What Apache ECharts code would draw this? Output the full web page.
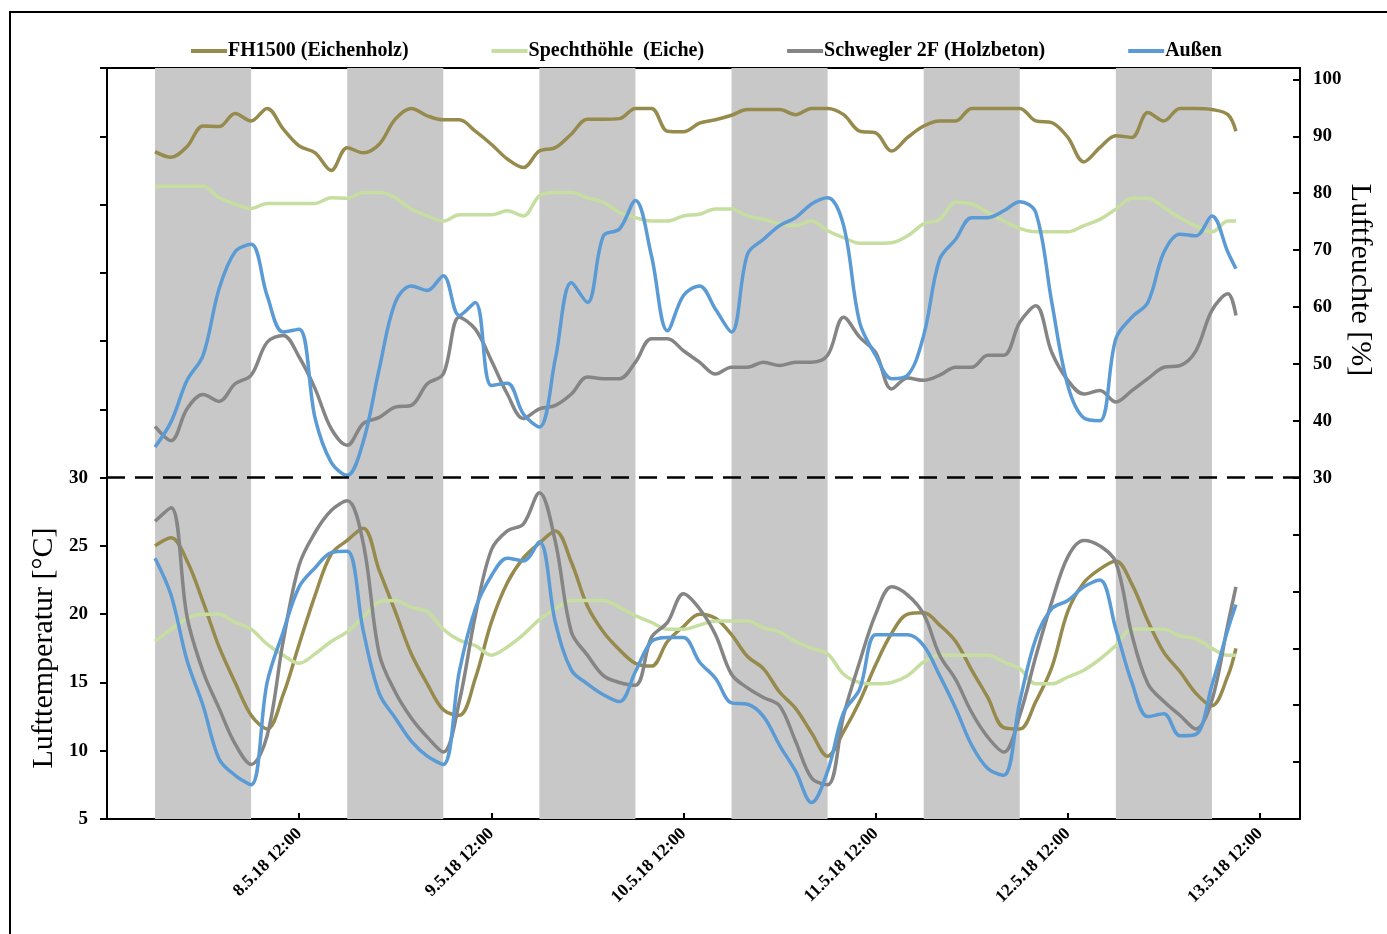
<!DOCTYPE html>
<html>
<head>
<meta charset="utf-8">
<title>Luftfeuchte / Lufttemperatur</title>
<script src="https://cdn.jsdelivr.net/npm/echarts@6.0.0/dist/echarts.min.js"></script>
<style>
    html, body { margin: 0; padding: 0; background: #fff; }
    #chart { width: 1387px; height: 934px; }
</style>
</head>
<body>
<div id="chart"></div>
<script>
// Stunden ab 7.5.18 12:00
const hours = [6, 8, 10, 12, 14, 16, 18, 20, 22, 24, 26, 28, 30, 32, 34, 36, 38, 40, 42, 44, 46, 48,
    50, 52, 54, 56, 58, 60, 62, 64, 66, 68, 70, 72, 74, 76, 78, 80, 82, 84, 86, 88, 90, 92, 94, 96, 98,
    100, 102, 104, 106, 108, 110, 112, 114, 116, 118, 120, 122, 124, 126, 128, 130, 132, 134, 136, 138, 140, 141]

const xLabels = ['8.5.18 12:00', '9.5.18 12:00', '10.5.18 12:00', '11.5.18 12:00', '12.5.18 12:00', '13.5.18 12:00']

// Nacht (18:00 - 06:00)
const nightStart = [6, 30, 54, 78, 102, 126]
const nightEnd = [18, 42, 66, 90, 114, 138]

const names = ['FH1500 (Eichenholz)', 'Spechthöhle  (Eiche)', 'Schwegler 2F (Holzbeton)', 'Außen']

// Luftfeuchte [%]
const fhHum = [87.3, 86.3, 88.2, 91.8, 91.7, 94.0, 92.7, 94.9, 91.3, 88.3, 87.1, 84.0, 88.0, 87.1, 88.6, 93.0, 94.9, 93.6, 92.9, 92.9, 90.9, 88.6,
    86.0, 84.5, 87.4, 88.0, 90.4, 93.0, 93.0, 93.1, 94.9, 94.9, 90.9, 90.8, 92.3, 92.9, 93.7, 94.7, 94.7, 94.7, 93.8, 94.9, 94.9, 93.8, 90.9, 90.6, 87.4,
    89.8, 91.8, 92.7, 92.7, 94.9, 94.9, 94.9, 94.9, 92.7, 92.4, 89.8, 85.5, 88.0, 90.1, 89.8, 94.2, 92.7, 94.9, 94.9, 94.7, 93.8, 90.9]
const spHum = [81.2, 81.2, 81.2, 81.2, 79.2, 78.1, 77.3, 78.2, 78.2, 78.2, 78.2, 79.2, 79.1, 80.1, 80.1, 79.2, 77.2, 76.0, 75.1, 76.2, 76.2, 76.2,
    76.9, 76.0, 79.5, 80.1, 80.1, 79.2, 78.4, 76.6, 75.7, 75.1, 75.1, 76.0, 76.3, 77.2, 77.2, 76.0, 75.4, 74.6, 74.3, 75.1, 73.4, 72.2, 71.2, 71.2, 71.3,
    72.5, 74.6, 75.4, 78.4, 78.1, 76.6, 75.1, 73.8, 73.2, 73.2, 73.2, 74.3, 75.4, 77.2, 79.1, 79.1, 77.5, 75.7, 74.2, 73.2, 75.1, 75.1]
const gyHum = [39.0, 36.5, 42.1, 44.6, 43.4, 46.5, 48.0, 53.8, 55.0, 51.2, 45.6, 38.6, 35.7, 39.5, 40.6, 42.4, 42.7, 46.5, 48.2, 58.2, 56.1, 50.6,
    44.7, 40.4, 42.1, 42.7, 44.7, 47.7, 47.4, 47.4, 50.3, 54.4, 54.4, 52.3, 50.3, 48.2, 49.4, 49.4, 50.3, 49.7, 50.3, 50.3, 51.5, 58.2, 54.7, 52.0, 45.6,
    47.5, 47.1, 48.0, 49.4, 49.4, 51.5, 51.5, 57.3, 60.2, 52.0, 47.1, 44.7, 45.3, 43.3, 45.3, 47.4, 49.4, 49.7, 52.3, 59.4, 62.3, 58.5]
const blHum = [35.4, 39.8, 47.1, 51.5, 63.2, 69.7, 71.0, 62.0, 55.6, 56.1, 40.4, 32.7, 30.4, 36.3, 49.1, 60.8, 63.7, 62.9, 65.5, 58.5, 60.8, 46.2,
    46.6, 41.2, 38.9, 50.9, 64.3, 60.8, 72.5, 73.7, 78.7, 69.0, 55.8, 62.0, 63.7, 59.6, 55.6, 69.3, 71.9, 74.3, 75.7, 78.1, 79.2, 74.3, 57.3, 51.5, 47.4,
    48.0, 55.0, 68.4, 71.9, 75.7, 75.7, 76.9, 78.5, 76.6, 60.8, 46.2, 40.5, 40.0, 54.4, 58.2, 60.8, 69.6, 72.8, 72.5, 76.0, 69.6, 66.7]

// Lufttemperatur [°C]
const fhTemp = [25.0, 25.6, 23.9, 20.9, 17.6, 15.0, 12.6, 11.6, 14.1, 17.8, 21.4, 24.4, 25.4, 26.3, 23.2, 20.2, 17.1, 14.9, 13.0, 12.6, 15.3, 19.4,
    22.3, 24.1, 25.2, 26.1, 23.8, 20.6, 18.7, 17.4, 16.4, 16.2, 18.0, 19.1, 20.0, 19.7, 18.5, 16.9, 16.0, 14.3, 13.1, 11.3, 9.6, 11.4, 13.6, 16.3, 18.6,
    20.0, 20.1, 19.2, 18.0, 15.9, 13.9, 11.7, 11.6, 13.6, 16.1, 20.2, 22.3, 23.3, 23.9, 22.2, 19.5, 17.2, 15.8, 14.2, 13.3, 15.5, 17.5]
const spTemp = [18.0, 18.9, 19.7, 20.0, 20.0, 19.4, 18.9, 17.8, 17.0, 16.4, 17.1, 18.0, 18.7, 19.8, 20.9, 21.0, 20.5, 20.2, 18.9, 18.1, 17.7, 17.0,
    17.6, 18.5, 19.6, 20.4, 21.0, 21.0, 21.0, 20.5, 19.9, 19.4, 18.9, 18.9, 19.2, 19.5, 19.5, 19.5, 19.0, 18.7, 18.0, 17.5, 17.1, 15.6, 15.0, 14.9, 15.0,
    15.5, 16.5, 17.0, 17.0, 17.0, 17.0, 16.5, 16.0, 14.9, 14.9, 15.4, 15.9, 16.7, 17.7, 18.9, 18.9, 18.9, 18.4, 18.2, 17.5, 17.0, 17.0]
const gyTemp = [26.8, 27.8, 19.8, 15.8, 13.1, 10.5, 9.0, 11.1, 18.0, 23.6, 26.0, 27.6, 28.3, 25.2, 17.1, 14.3, 12.4, 11.0, 9.9, 13.6, 19.9, 24.7,
    26.1, 26.6, 28.9, 25.3, 18.7, 17.0, 15.5, 15.0, 14.8, 18.3, 19.4, 21.5, 20.4, 18.5, 15.6, 14.6, 13.9, 13.3, 10.7, 8.0, 7.5, 12.6, 16.5, 20.0, 22.0,
    21.4, 20.0, 17.0, 15.2, 12.8, 11.0, 9.9, 12.6, 16.9, 20.9, 24.2, 25.4, 25.0, 23.8, 18.5, 14.9, 13.6, 12.6, 11.6, 13.7, 19.3, 22.0]
const blTemp = [24.1, 21.4, 16.6, 13.3, 9.4, 8.2, 7.5, 15.0, 18.7, 22.0, 23.4, 24.5, 24.6, 18.8, 14.2, 12.4, 10.7, 9.6, 9.0, 15.8, 20.4, 22.8,
    24.1, 23.9, 25.3, 19.4, 15.9, 14.9, 14.1, 13.6, 15.8, 18.0, 18.3, 18.3, 16.5, 15.3, 13.5, 13.4, 12.5, 10.4, 8.5, 6.2, 8.5, 12.8, 14.5, 18.5, 18.5,
    18.5, 17.7, 15.5, 13.1, 10.4, 8.7, 8.2, 13.6, 18.2, 20.4, 21.0, 22.0, 22.5, 18.9, 15.0, 12.5, 12.7, 11.1, 11.2, 14.8, 18.9, 20.7]

const colors = ['#968a4c', '#c6dea0', '#858585', '#5b9bd5']
const serif = '"Liberation Serif", "DejaVu Serif", serif'

function pairs(values) {
    return hours.map((h, i) => [h, values[i]])
}

function lineSeries(name, values, color, yAxisIndex) {
    return {
        name: name,
        type: 'line',
        yAxisIndex: yAxisIndex,
        data: pairs(values),
        showSymbol: false,
        smooth: 0.35,
        z: 3,
        lineStyle: { color: color, width: 3.5 },
        itemStyle: { color: color }
    }
}

const chart = echarts.init(document.getElementById('chart'))

const series = [
    // Nachtbalken und Trennlinie
    {
        type: 'line',
        data: [],
        silent: true,
        z: 1,
        markArea: {
            silent: true,
            itemStyle: { color: '#c8c8c8', opacity: 1 },
            data: nightStart.map((s, i) => [{ xAxis: s }, { xAxis: nightEnd[i] }])
        },
        markLine: {
            silent: true,
            symbol: 'none',
            label: { show: false },
            lineStyle: { color: '#000', width: 2.5, type: [18, 10] },
            data: [{ yAxis: 30 }]
        }
    },
    lineSeries(names[0], fhTemp, colors[0], 0),
    lineSeries(names[1], spTemp, colors[1], 0),
    lineSeries(names[2], gyTemp, colors[2], 0),
    lineSeries(names[3], blTemp, colors[3], 0),
    lineSeries(names[0], fhHum, colors[0], 1),
    lineSeries(names[1], spHum, colors[1], 1),
    lineSeries(names[2], gyHum, colors[2], 1),
    lineSeries(names[3], blHum, colors[3], 1)
]

chart.setOption({
    animation: false,
    backgroundColor: '#fff',
    textStyle: { fontFamily: serif },
    legend: {
        data: names,
        left: 186,
        top: 36,
        icon: 'rect',
        itemWidth: 36,
        itemHeight: 4,
        itemGap: 83,
        textStyle: { fontFamily: serif, fontSize: 20, fontWeight: 'bold', color: '#000', padding: [0, 0, 0, -4] }
    },
    grid: {
        left: 107,
        right: 87,
        top: 68,
        bottom: 115,
        show: true,
        borderColor: '#000',
        borderWidth: 2
    },
    xAxis: {
        type: 'value',
        min: 0,
        max: 149,
        interval: 24,
        splitLine: { show: false },
        axisLine: { onZero: false, lineStyle: { color: '#000', width: 2 } },
        axisTick: { inside: true, length: 6, lineStyle: { color: '#000', width: 2 } },
        axisLabel: {
            rotate: 45,
            margin: 12,
            fontFamily: serif,
            fontSize: 17.5,
            fontWeight: 'bold',
            color: '#000',
            formatter: v => (v > 0 && v % 24 === 0 ? xLabels[v / 24 - 1] : '')
        }
    },
    yAxis: [
        {
            type: 'value',
            min: 5,
            max: 60,
            interval: 5,
            splitLine: { show: false },
            axisLine: { show: true, onZero: false, lineStyle: { color: '#000', width: 2 } },
            axisTick: { show: true, length: 7, lineStyle: { color: '#000', width: 2 } },
            axisLabel: {
                margin: 19,
                fontFamily: serif,
                fontSize: 19,
                fontWeight: 'bold',
                color: '#000',
                formatter: v => (v <= 30 ? String(v) : '')
            }
        },
        {
            type: 'value',
            position: 'right',
            min: -30,
            max: 102,
            interval: 10,
            splitLine: { show: false },
            axisLine: { show: true, onZero: false, lineStyle: { color: '#000', width: 2 } },
            axisTick: { show: true, inside: true, length: 7, lineStyle: { color: '#000', width: 2 } },
            axisLabel: {
                margin: 13,
                fontFamily: serif,
                fontSize: 19,
                fontWeight: 'bold',
                color: '#000',
                formatter: v => (v >= 30 && v <= 100 ? String(v) : '')
            }
        }
    ],
    graphic: [
        {
            type: 'rect',
            silent: true,
            shape: { x: 10, y: 12, width: 1400, height: 1000 },
            style: { fill: 'none', stroke: '#000', lineWidth: 2 }
        },
        {
            type: 'text',
            x: 44,
            y: 648,
            rotation: Math.PI / 2,
            style: {
                text: 'Lufttemperatur [°C]',
                font: '30px ' + serif,
                fill: '#000',
                textAlign: 'center',
                textVerticalAlign: 'middle'
            }
        },
        {
            type: 'text',
            x: 1360,
            y: 280,
            rotation: -Math.PI / 2,
            style: {
                text: 'Luftfeuchte [%]',
                font: '30px ' + serif,
                fill: '#000',
                textAlign: 'center',
                textVerticalAlign: 'middle'
            }
        }
    ],
    series: series
})
</script>
</body>
</html>
